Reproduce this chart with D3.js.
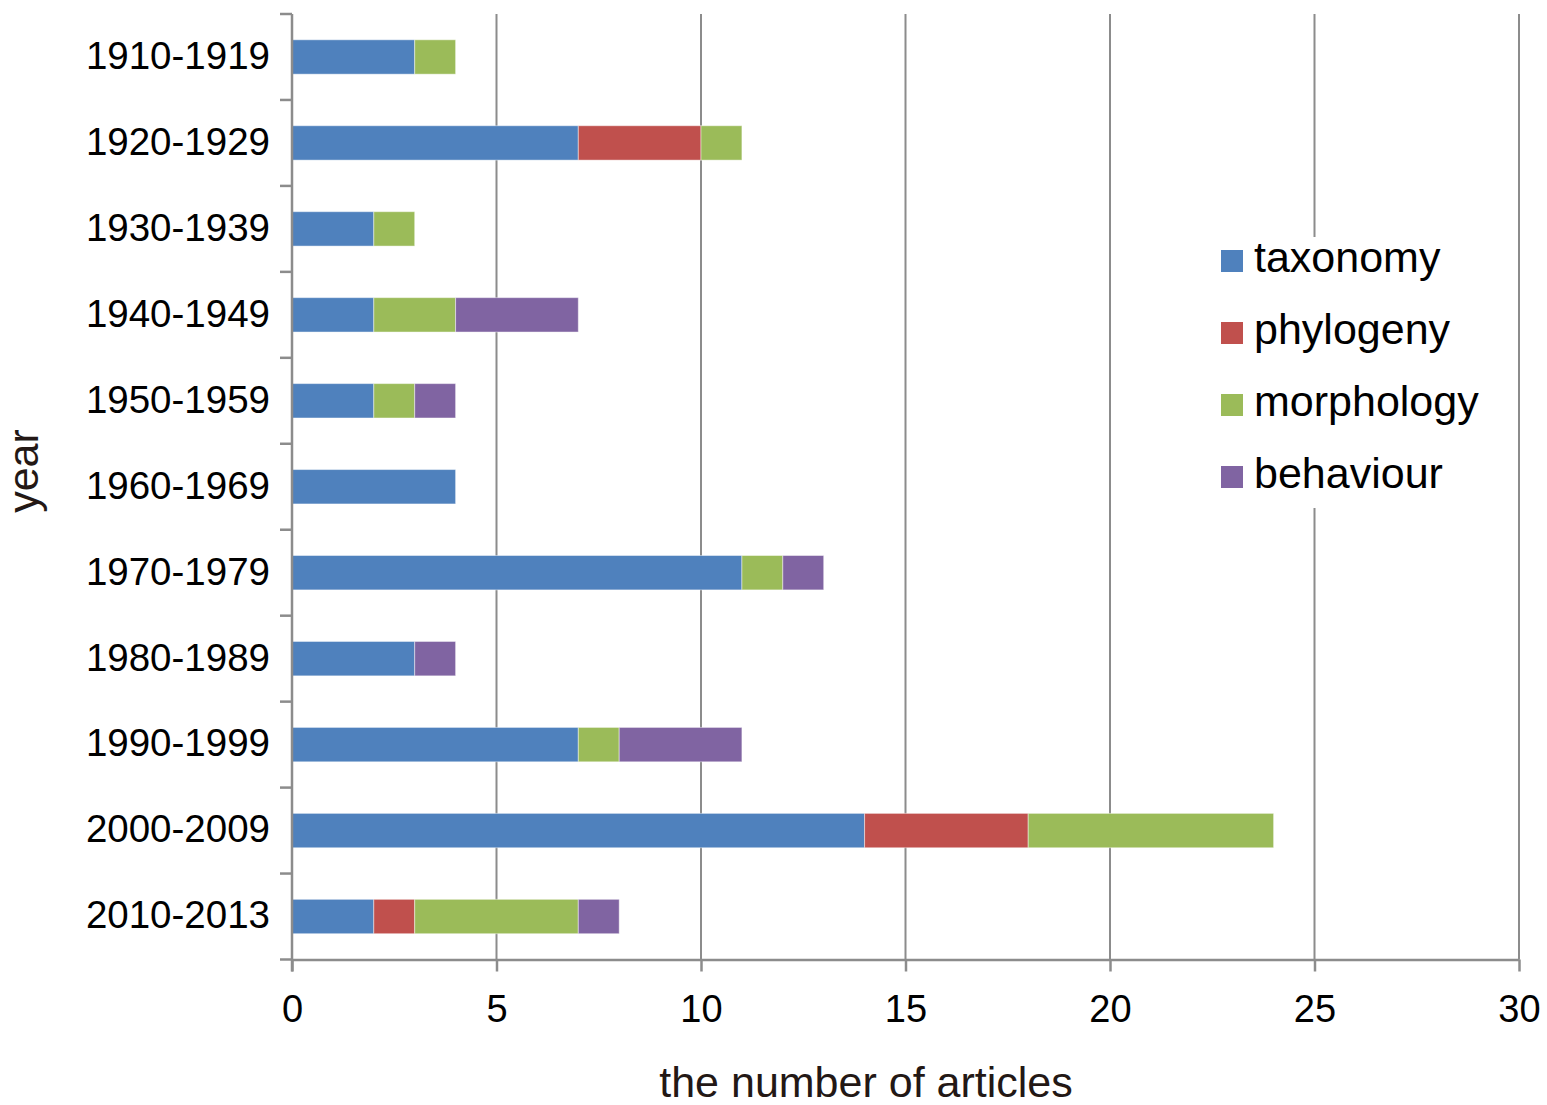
<!DOCTYPE html>
<html>
<head>
<meta charset="utf-8">
<script src="https://cdn.jsdelivr.net/npm/d3@7"></script>
<style>
  html, body { margin: 0; padding: 0; background: #fff; }
  svg { display: block; font-family: "Liberation Sans", Arial, sans-serif; }
</style>
</head>
<body>
<svg id="chart" width="1547" height="1105"></svg>
<script>
// Decades of publication
const decades = ["1910-1919", "1920-1929", "1930-1939", "1940-1949", "1950-1959",
                 "1960-1969", "1970-1979", "1980-1989", "1990-1999", "2000-2009", "2010-2013"];

// Article counts per research topic
const taxonomy   = [3, 7, 2, 2, 2, 4, 11, 3, 7, 14, 2];
const phylogeny  = [0, 3, 0, 0, 0, 0, 0, 0, 0, 4, 1];
const morphology = [1, 1, 1, 2, 1, 0, 1, 0, 1, 6, 4];
const behaviour  = [0, 0, 0, 3, 1, 0, 1, 1, 3, 0, 1];

const topics = ["taxonomy", "phylogeny", "morphology", "behaviour"];
const topicColors = ["#4F81BD", "#C0504D", "#9BBB59", "#8064A2"];
const xTicks = [0, 5, 10, 15, 20, 25, 30];

const rows = decades.map((d, i) => ({
  decade: d,
  taxonomy: taxonomy[i],
  phylogeny: phylogeny[i],
  morphology: morphology[i],
  behaviour: behaviour[i]
}));

const svg = d3.select("#chart");
const plotLeft = 292, plotRight = 1519, plotTop = 14, plotBottom = 959.5;
const axisColor = "#8c8c8c";

const x = d3.scaleLinear().domain([0, 30]).range([plotLeft, plotRight]);
const y = d3.scaleBand().domain(decades).range([plotTop, plotBottom])
  .paddingInner(0.6).paddingOuter(0.3);
const color = d3.scaleOrdinal().domain(topics).range(topicColors);

// vertical gridlines
svg.append("g")
  .selectAll("line")
  .data(xTicks.slice(1))
  .join("line")
  .attr("x1", d => x(d)).attr("x2", d => x(d))
  .attr("y1", plotTop).attr("y2", plotBottom)
  .attr("stroke", axisColor).attr("stroke-width", 2);

// stacked bars
const series = d3.stack().keys(topics)(rows);
svg.append("g")
  .selectAll("g")
  .data(series)
  .join("g")
  .attr("fill", d => color(d.key))
  .selectAll("rect")
  .data(d => d.filter(s => s[1] > s[0]))
  .join("rect")
  .attr("x", d => x(d[0]))
  .attr("width", d => x(d[1]) - x(d[0]))
  .attr("y", d => y(d.data.decade))
  .attr("height", y.bandwidth())
  .attr("stroke", "#ffffff").attr("stroke-opacity", 0.45).attr("stroke-width", 1);

// x axis
const xAxis = svg.append("g")
  .attr("transform", `translate(0,${plotBottom})`)
  .call(d3.axisBottom(x).tickValues(xTicks).tickSize(12).tickPadding(24).tickSizeOuter(0));
xAxis.select(".domain").attr("stroke", axisColor).attr("stroke-width", 2.5);
xAxis.selectAll(".tick line").attr("stroke", axisColor).attr("stroke-width", 2.5);
xAxis.selectAll(".tick text")
  .attr("font-size", 38).attr("fill", "#000")
  .attr("font-family", "'Liberation Sans', Arial, sans-serif");

// y axis: boundary ticks between decades
const yBounds = d3.range(decades.length + 1).map(i => plotTop + i * y.step());
svg.append("g")
  .selectAll("line")
  .data(yBounds)
  .join("line")
  .attr("x1", plotLeft - 12).attr("x2", plotLeft)
  .attr("y1", d => d).attr("y2", d => d)
  .attr("stroke", axisColor).attr("stroke-width", 2.5);
svg.append("line")
  .attr("x1", plotLeft).attr("x2", plotLeft)
  .attr("y1", plotTop).attr("y2", plotBottom + 12)
  .attr("stroke", axisColor).attr("stroke-width", 2.5);

// decade labels
svg.append("g")
  .selectAll("text")
  .data(decades)
  .join("text")
  .attr("x", 270)
  .attr("y", d => y(d) + y.bandwidth() / 2 - 2)
  .attr("dy", "0.36em")
  .attr("text-anchor", "end")
  .attr("font-size", 38.5)
  .attr("fill", "#000")
  .text(d => d);

// axis titles
svg.append("text")
  .attr("x", 866).attr("y", 1097)
  .attr("text-anchor", "middle")
  .attr("font-size", 43)
  .attr("fill", "#231815")
  .text("the number of articles");

svg.append("text")
  .attr("transform", "translate(38,471) rotate(-90)")
  .attr("text-anchor", "middle")
  .attr("font-size", 43)
  .attr("fill", "#231815")
  .text("year");

// legend
const legend = svg.append("g");
legend.append("rect")
  .attr("x", 1208).attr("y", 237)
  .attr("width", 292).attr("height", 271)
  .attr("fill", "#fff");
const item = legend.selectAll("g")
  .data(topics)
  .join("g")
  .attr("transform", (d, i) => `translate(1221,${250 + i * 72})`);
item.append("rect")
  .attr("width", 22).attr("height", 22)
  .attr("fill", d => color(d));
item.append("text")
  .attr("x", 33).attr("y", 22)
  .attr("font-size", 43)
  .attr("fill", "#000")
  .text(d => d);
</script>
</body>
</html>
